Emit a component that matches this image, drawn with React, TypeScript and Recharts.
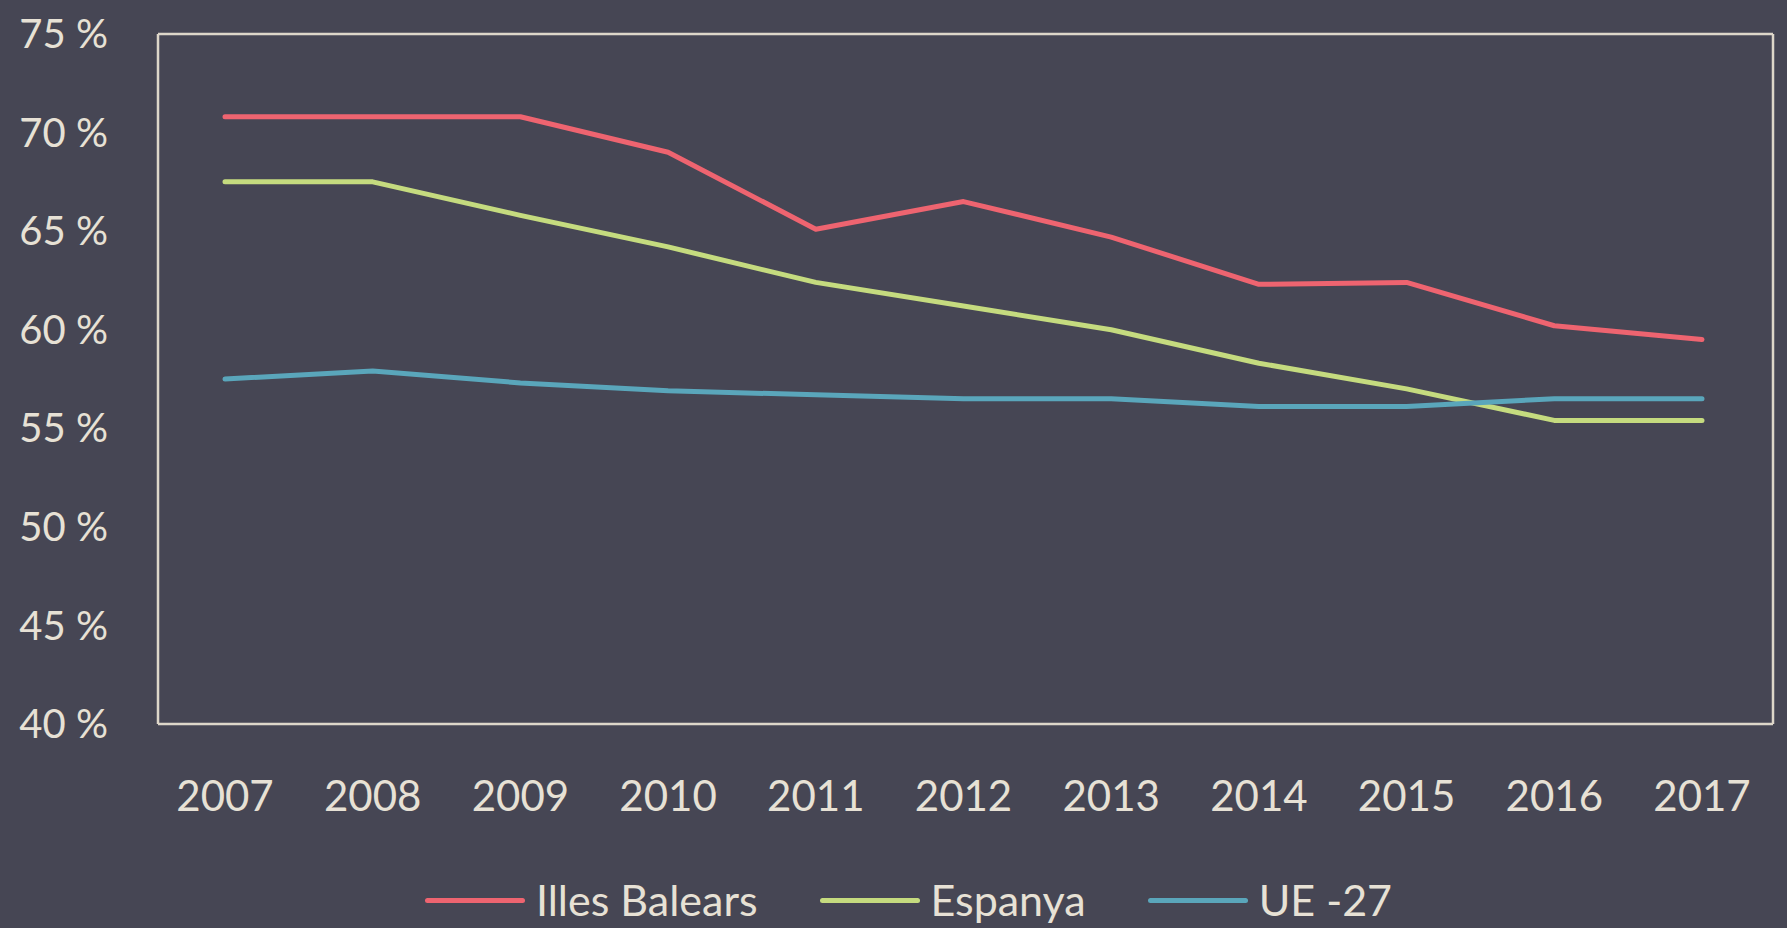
import React from 'react';
import { LineChart, Line, XAxis, YAxis } from 'recharts';

// Years on the x axis
const YEARS: string[] = ['2007', '2008', '2009', '2010', '2011', '2012', '2013', '2014', '2015', '2016', '2017'];

// Series values, in percent
const ILLES_BALEARS: number[] = [70.8, 70.8, 70.8, 69.0, 65.1, 66.5, 64.7, 62.3, 62.4, 60.2, 59.5];
const ESPANYA: number[] = [67.5, 67.5, 65.8, 64.2, 62.4, 61.2, 60.0, 58.3, 57.0, 55.4, 55.4];
const UE27: number[] = [57.5, 57.9, 57.3, 56.9, 56.7, 56.5, 56.5, 56.1, 56.1, 56.5, 56.5];

const Y_TICKS: number[] = [40, 45, 50, 55, 60, 65, 70, 75];

const SERIES = [
  { key: 'balears', name: 'Illes Balears', color: '#ee6470', values: ILLES_BALEARS },
  { key: 'espanya', name: 'Espanya', color: '#c5db7f', values: ESPANYA },
  { key: 'ue27', name: 'UE -27', color: '#5aa6bb', values: UE27 },
];

const data = YEARS.map((year, i) => {
  const row: Record<string, string | number> = { year };
  SERIES.forEach((s) => {
    row[s.key] = s.values[i];
  });
  return row;
});

const BG = '#464654';
const TEXT = '#e7e1d5';
const FRAME = '#ddd6c9';
const FONT = 'Lato, "Open Sans", sans-serif';

export default function App() {
  const tickStyle = { fill: TEXT, fontSize: 42, fontFamily: FONT };
  return (
    <div style={{ position: 'fixed', left: 0, top: 0, width: 1787, height: 928, background: BG, overflow: 'hidden' }}>
      <LineChart width={1787} height={928} data={data} margin={{ top: 33, right: 13, left: 0, bottom: 84 }}>
        <XAxis
          dataKey="year"
          height={120}
          padding={{ left: 67, right: 71 }}
          tick={tickStyle}
          tickLine={false}
          tickSize={0}
          tickMargin={57}
          axisLine={{ stroke: FRAME, strokeWidth: 2.5 }}
        />
        {/* top edge of the frame */}
        <XAxis
          xAxisId="top"
          orientation="top"
          dataKey="year"
          height={1}
          tick={false}
          tickLine={false}
          axisLine={{ stroke: FRAME, strokeWidth: 2.5 }}
        />
        <YAxis
          width={158}
          domain={[40, 75]}
          ticks={Y_TICKS}
          tickFormatter={(v: number) => `${v} %`}
          tick={{ ...tickStyle, fontSize: 40 }}
          tickLine={false}
          tickSize={0}
          tickMargin={50}
          axisLine={{ stroke: FRAME, strokeWidth: 2.5 }}
        />
        {/* right edge of the frame */}
        <YAxis
          yAxisId="right"
          orientation="right"
          width={1}
          domain={[40, 75]}
          tick={false}
          tickLine={false}
          axisLine={{ stroke: FRAME, strokeWidth: 2.5 }}
        />
        {SERIES.map((s) => (
          <Line
            key={s.key}
            type="linear"
            dataKey={s.key}
            name={s.name}
            stroke={s.color}
            strokeWidth={5}
            strokeLinecap="round"
            strokeLinejoin="round"
            dot={false}
            activeDot={false}
            isAnimationActive={false}
          />
        ))}
      </LineChart>
      {/* legend */}
      <div
        style={{
          position: 'absolute',
          left: 0,
          top: 872,
          width: 1787,
          display: 'flex',
          justifyContent: 'center',
          alignItems: 'center',
          paddingLeft: 30,
          boxSizing: 'border-box',
          fontFamily: FONT,
          fontSize: 43,
          color: TEXT,
        }}
      >
        {SERIES.map((s, i) => (
          <div key={s.key} style={{ display: 'flex', alignItems: 'center', marginLeft: i === 0 ? 0 : 62 }}>
            <div style={{ width: 100, height: 5, borderRadius: 3, background: s.color, marginRight: 11 }} />
            <span style={{ lineHeight: '56px' }}>{s.name}</span>
          </div>
        ))}
      </div>
    </div>
  );
}
